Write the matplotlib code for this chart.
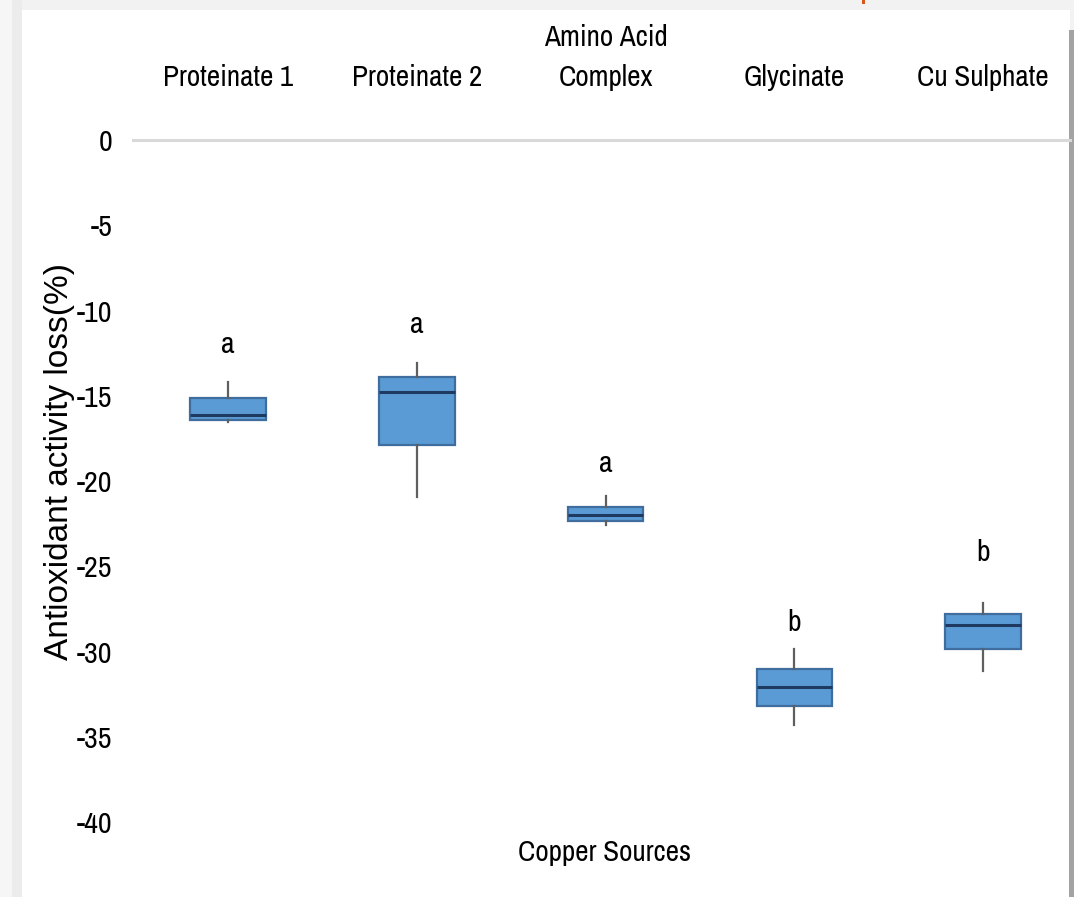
import matplotlib
matplotlib.use("Agg")
import matplotlib.pyplot as plt
from matplotlib.patches import Rectangle

# Copper source categories and box-plot summaries (antioxidant activity loss, %)
categories = ["Proteinate 1", "Proteinate 2", "Amino Acid\nComplex", "Glycinate", "Cu Sulphate"]
whisker_low = [-16.55, -20.95, -22.6, -34.3, -31.15]
q1 = [-16.4, -17.9, -22.35, -33.2, -29.85]
median = [-16.15, -14.8, -22.0, -32.1, -28.45]
q3 = [-15.15, -13.9, -21.5, -31.0, -27.8]
whisker_high = [-14.2, -13.1, -20.9, -29.85, -27.15]
groups = ["a", "a", "a", "b", "b"]
group_label_y = [-12.5, -11.3, -19.45, -28.8, -24.7]
yticks = [0, -5, -10, -15, -20, -25, -30, -35, -40]

W, H = 1074, 897
fig = plt.figure(figsize=(W / 100, H / 100), dpi=100)
fig.patch.set_facecolor("#f2f2f2")


def fx(x):
    return x / W


def fy(y):
    return 1 - y / H


# page panel
fig.patches.append(Rectangle((fx(0), fy(897)), fx(22), 1, transform=fig.transFigure,
                             facecolor="#ececec", edgecolor="none", zorder=-3))
fig.patches.append(Rectangle((fx(0), fy(897)), fx(12), 1, transform=fig.transFigure,
                             facecolor="#f6f6f6", edgecolor="none", zorder=-2))
fig.patches.append(Rectangle((fx(22), fy(897)), fx(1048), fy(10) - fy(897),
                             transform=fig.transFigure, facecolor="white",
                             edgecolor="none", zorder=-1))
fig.patches.append(Rectangle((fx(1069), fy(897)), fx(5), fy(30) - fy(897),
                             transform=fig.transFigure, facecolor="#a3a3a3",
                             edgecolor="none", zorder=-1))
fig.patches.append(Rectangle((fx(862), fy(4)), fx(3), fy(0) - fy(4),
                             transform=fig.transFigure, facecolor="#d9571c",
                             edgecolor="none", zorder=0))

narrow = ["Archivo Narrow", "Liberation Sans", "DejaVu Sans"]
regular = ["Liberation Sans", "DejaVu Sans"]

left, right, top, bottom = 133, 1070, 140, 822
ax = fig.add_axes([fx(left), fy(bottom), fx(right - left), fy(top) - fy(bottom)])
ax.set_facecolor("none")

positions = list(range(len(categories)))
stats = [
    {"whislo": lo, "q1": a, "med": m, "q3": b, "whishi": hi, "fliers": []}
    for lo, a, m, b, hi in zip(whisker_low, q1, median, q3, whisker_high)
]
ax.bxp(
    stats,
    positions=positions,
    widths=0.40,
    patch_artist=True,
    showcaps=False,
    showfliers=False,
    boxprops=dict(facecolor="#5b9bd5", edgecolor="#3f6d9e", linewidth=1.6),
    medianprops=dict(color="#1f3a60", linewidth=2.2),
    whiskerprops=dict(color="#5f5f5f", linewidth=1.6),
)

for p, g, gy in zip(positions, groups, group_label_y):
    ax.text(p, gy, g, ha="center", va="baseline", fontsize=21.5, family=narrow,
            color="black")

ax.set_xlim(-(228 - left) / 188.75, 4 + (right - 983) / 188.75)
ax.set_ylim(-40, 0)

ax.axhline(0, color="#d9d9d9", linewidth=2.2, clip_on=False, zorder=0)

for s in ax.spines.values():
    s.set_visible(False)

ax.set_yticks(yticks)
ax.set_yticklabels([str(v) for v in yticks], fontsize=21.5, family=narrow)
ax.tick_params(axis="y", length=0, pad=15)

ax.xaxis.tick_top()
ax.set_xticks(positions)
ax.set_xticklabels(categories, fontsize=21, family=narrow, linespacing=1.6)
ax.tick_params(axis="x", length=0, pad=35)

fig.text(fx(60), fy(461), "Antioxidant activity loss(%)", rotation=90,
         ha="center", va="center", fontsize=24, family=regular)
fig.text(fx(604), fy(861), "Copper Sources", ha="center", va="baseline",
         fontsize=21, family=narrow)

fig.savefig("out.png", dpi=100)
